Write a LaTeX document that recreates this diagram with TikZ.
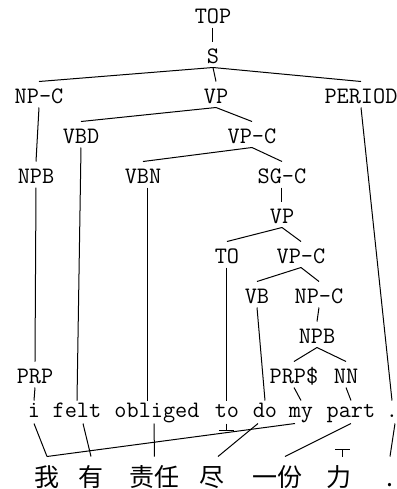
\documentclass[tikz,border=0pt]{standalone}
\usepackage{fontspec}
\newfontfamily\cjk{Noto Sans CJK SC}

\begin{document}
\begin{tikzpicture}[x=0.5pt,y=-0.5pt,line width=0.5pt,
  tag/.style={font=\ttfamily\fontsize{11.8}{13}\selectfont,inner sep=0pt,anchor=base,text height=10.5pt,text depth=2pt},
  word/.style={font=\ttfamily\fontsize{11.8}{13}\selectfont,inner sep=0pt,anchor=base,text height=8pt,text depth=3pt},
  zh/.style={font=\cjk\fontsize{12.5}{14}\selectfont,inner sep=0pt,anchor=base,text height=14.5pt,text depth=0pt}]
  \useasboundingbox (0,0) rectangle (397,489);
  % parse tree
  \node[tag] (top) at (213,23) {TOP};
  \node[tag] (s) at (213,63) {S};
  \node[tag] (npc) at (39,103) {NP-C};
  \node[tag] (vp) at (216,103) {VP};
  \node[tag] (period) at (361,103) {PERIOD};
  \node[tag] (vbd) at (81,143) {VBD};
  \node[tag] (vpc) at (252,143) {VP-C};
  \node[tag] (npb) at (36,183) {NPB};
  \node[tag] (vbn) at (143,183) {VBN};
  \node[tag] (sgc) at (282,183) {SG-C};
  \node[tag] (vpb) at (282,223) {VP};
  \node[tag] (to) at (227,263) {TO};
  \node[tag] (vpcb) at (301,263) {VP-C};
  \node[tag] (vb) at (257,303) {VB};
  \node[tag] (npcb) at (319,303) {NP-C};
  \node[tag] (npbb) at (317,343) {NPB};
  \node[tag] (prp) at (35,383) {PRP};
  \node[tag] (prps) at (294,383) {PRP\$};
  \node[tag] (nn) at (346,383) {NN};
  % english words
  \node[word] (ei) at (34,417) {i};
  \node[word] (efelt) at (77,417) {felt};
  \node[word] (eobliged) at (157,417) {obliged};
  \node[word] (eto) at (227,417) {to};
  \node[word] (edo) at (265,417) {do};
  \node[word] (emy) at (301,417) {my};
  \node[word] (epart) at (351,417) {part};
  \node[word] (edot) at (392,417) {.};
  % chinese words
  \node[zh] (zwo) at (47,486) {我};
  \node[zh] (zyou) at (91,486) {有};
  \node[zh] (zzeren) at (154.5,486) {责任};
  \node[zh] (zjin) at (212,486) {尽};
  \node[zh] (zyifen) at (278,486) {一份};
  \node[zh] (zli) at (339,486) {力};
  \node[zh] (zdot) at (390,486) {.};

  \foreach \p/\c in {top/s,s/npc,s/vp,s/period,vp/vbd,vp/vpc,npc/npb,vpc/vbn,vpc/sgc,
    sgc/vpb,vpb/to,vpb/vpcb,vpcb/vb,vpcb/npcb,npcb/npbb,npbb/prps,npbb/nn,npb/prp}
    \draw (\p.south) -- (\c.north);
  \foreach \p/\c in {prp/ei,vbd/efelt,to/eto,vb/edo,prps/emy,nn/epart,period/edot}
    \draw (\p.south) -- (\c.north);
  \draw ([xshift=2.5pt]vbn.south) -- ([xshift=-4.5pt]eobliged.north);

  % alignment
  \draw (ei.south) -- (zwo.north);
  \draw ([xshift=-3pt]emy.south) -- (zwo.north);
  \draw ([xshift=3pt]efelt.south) -- (zyou.north);
  \draw ([xshift=-1.5pt]eobliged.south) -- (zzeren.north);
  \draw ([xshift=-3.5pt]edo.south) -- ([xshift=3pt]zjin.north);
  \draw (epart.south) -- ([xshift=3.5pt]zyifen.north);
  \draw ([xshift=1.5pt]edot.south) -- (zdot.north);
  % unaligned words
  \draw (eto.south) -- ++(0,7) ++(-7.5,0) -- ++(15,0);
  \draw ([xshift=2pt]zli.north) -- ++(0,-7) ++(-7.5,0) -- ++(15,0);
\end{tikzpicture}
\end{document}
